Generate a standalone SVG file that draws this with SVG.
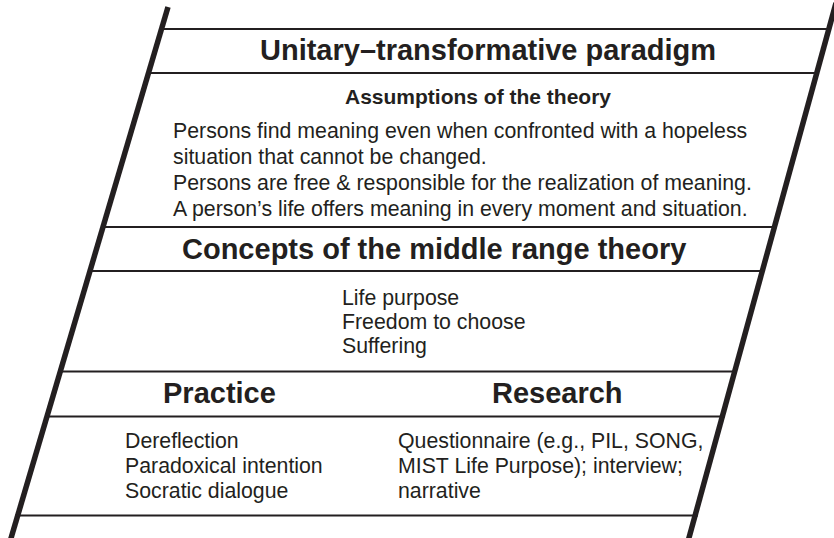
<svg xmlns="http://www.w3.org/2000/svg" width="834" height="538" viewBox="0 0 834 538">
<style>
.frame{stroke:#231f20;stroke-width:5.5;fill:none}
.rule{stroke:#231f20;stroke-width:2;fill:none}
text{font-family:"Liberation Sans",Arial,sans-serif;fill:#231f20}
.h1{font-size:29px;font-weight:bold}
.h2{font-size:21px;font-weight:bold}
.b{font-size:21.3px}
</style>
<rect width="834" height="538" fill="#fff"/>
<g id="frame">
<line class="frame" x1="168" y1="7" x2="9" y2="545"/>
<line class="frame" x1="836" y1="3" x2="687" y2="545"/>
</g>
<g id="connectors">
<line class="rule" x1="160" y1="29" x2="830" y2="29"/>
<line class="rule" x1="147" y1="73" x2="818" y2="73"/>
<line class="rule" x1="101" y1="227" x2="776" y2="227"/>
<line class="rule" x1="88" y1="271" x2="764" y2="271"/>
<line class="rule" x1="58" y1="371.5" x2="737" y2="371.5"/>
<line class="rule" x1="45" y1="416.5" x2="725" y2="416.5"/>
<line class="rule" x1="15" y1="515.5" x2="698" y2="515.5"/>
</g>
<g id="paradigm">
<text class="h1" x="260" y="60">Unitary–transformative paradigm</text>
</g>
<g id="assumptions">
<text class="h2" x="345" y="104">Assumptions of the theory</text>
<text class="b" x="173" y="138">Persons find meaning even when confronted with a hopeless</text>
<text class="b" x="173" y="164">situation that cannot be changed.</text>
<text class="b" x="173" y="190">Persons are free &amp; responsible for the realization of meaning.</text>
<text class="b" x="173" y="216">A person’s life offers meaning in every moment and situation.</text>
</g>
<g id="concepts">
<text class="h1" x="182" y="259">Concepts of the middle range theory</text>
<text class="b" x="342" y="305">Life purpose</text>
<text class="b" x="342" y="329">Freedom to choose</text>
<text class="b" x="342" y="353">Suffering</text>
</g>
<g id="practice">
<text class="h1" x="163" y="403">Practice</text>
<text class="b" x="125" y="448">Dereflection</text>
<text class="b" x="125" y="473">Paradoxical intention</text>
<text class="b" x="125" y="498">Socratic dialogue</text>
</g>
<g id="research">
<text class="h1" x="492" y="403">Research</text>
<text class="b" x="398" y="448">Questionnaire (e.g., PIL, SONG,</text>
<text class="b" x="398" y="473">MIST Life Purpose); interview;</text>
<text class="b" x="398" y="498">narrative</text>
</g>
</svg>
